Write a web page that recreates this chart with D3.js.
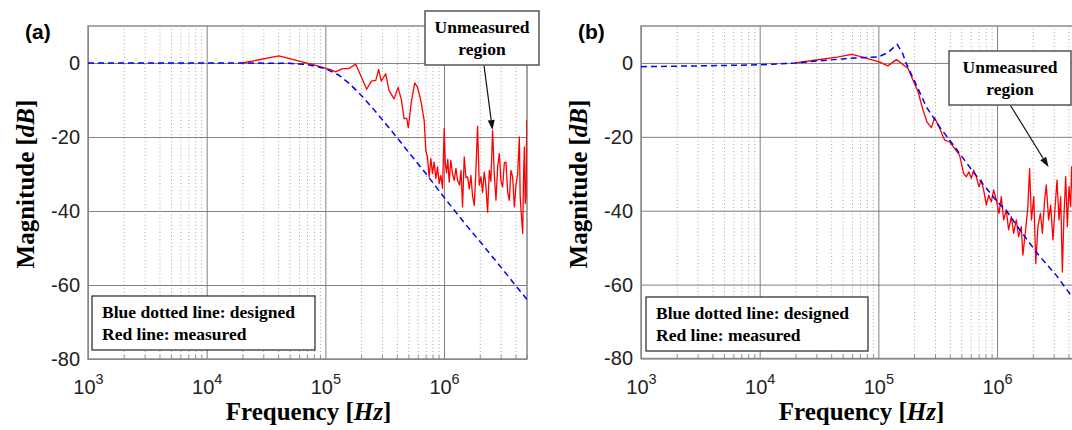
<!DOCTYPE html>
<html><head><meta charset="utf-8">
<script src="https://cdn.jsdelivr.net/npm/d3@7"></script>
<style>body{margin:0;background:#fff}svg{display:block}</style>
</head><body>
<svg id="c" width="1072" height="430"></svg>
<script>
// ---------- data ----------
const freqTicks = [1e3, 1e4, 1e5, 1e6];
const freqTickExp = ["3", "4", "5", "6"];
const magTicks = [-80, -60, -40, -20, 0];
const freqDomain = [1e3, 5e6];
const magDomain = [-80, 10];

const designedA_f  = [1e3, 1e4, 2e4, 5e4, 7e4, 1e5, 1.3e5, 1.6e5, 2e5, 2.5e5, 3e5, 4e5, 5e5, 7e5, 1e6, 1.5e6, 2e6, 3e6, 4e6, 5e6];
const designedA_db = [0, 0, 0, -0.1, -0.4, -1.5, -3.3, -5.6, -8.7, -12.2, -15.2, -20.1, -24, -29.8, -36.3, -43.4, -48.2, -55.1, -60.1, -63.9];

const measuredA_f  = [2e4, 4.06e4, 8e4, 1.107e5, 1.22e5, 1.39e5, 1.58e5, 1.8e5, 2.23e5, 2.44e5, 2.66e5, 2.81e5, 2.96e5, 3.22e5, 3.44e5, 3.79e5, 4.1e5, 4.38e5, 4.6e5, 4.85e5, 5.0e5, 5.3e5, 5.66e5, 5.97e5, 6.37e5, 6.8e5, 7.02e5, 7.25e5, 7.49e5, 7.74e5, 7.99e5, 8.25e5, 8.52e5, 8.81e5, 9.1e5, 9.4e5, 9.71e5, 1.003e6, 1.025e6, 1.049e6, 1.075e6, 1.105e6, 1.141e6, 1.18e6, 1.218e6, 1.26e6, 1.299e6, 1.35e6, 1.39e6, 1.432e6, 1.479e6, 1.53e6, 1.579e6, 1.63e6, 1.684e6, 1.74e6, 1.797e6, 1.85e6, 1.917e6, 1.98e6, 2.046e6, 2.11e6, 2.183e6, 2.25e6, 2.329e6, 2.406e6, 2.48e6, 2.566e6, 2.65e6, 2.738e6, 2.83e6, 2.922e6, 3.02e6, 3.117e6, 3.22e6, 3.326e6, 3.44e6, 3.548e6, 3.66e6, 3.786e6, 3.911e6, 4.04e6, 4.173e6, 4.31e6, 4.38e6, 4.453e6, 4.6e6, 4.68e6, 4.75e6, 4.83e6, 4.91e6, 4.98e6, 5.0e6];
const measuredA_db = [0, 1.9, -0.5, -1.8, -2.4, -1.5, -1.5, -0.3, -7.1, -4.9, -4.7, -1.7, -4.9, -2.9, -7.4, -9.7, -6.6, -10.1, -15, -15, -17.5, -10.5, -5.4, -6.5, -10.1, -15.5, -23.6, -25.4, -30.8, -25.8, -29.9, -26.8, -31.2, -28.1, -32.6, -30.4, -33.9, -17.7, -27, -29.7, -26, -32.2, -26.3, -30, -31.7, -28.5, -31.7, -33, -29, -38.9, -25.4, -31, -30.8, -34, -30.4, -36, -38.5, -30, -17.1, -33, -30.8, -35, -29.5, -33, -40.3, -29, -32, -18.3, -30, -37.1, -28, -24.5, -32, -33.5, -27, -26.8, -35, -37.1, -29, -30.8, -38.9, -33, -29.9, -20, -36, -39.8, -46.1, -30, -22.7, -38, -36.2, -15.5, -29];

const designedB_f  = [1e3, 3e3, 1e4, 2e4, 3e4, 5e4, 7e4, 1e5, 1.2e5, 1.44e5, 1.6e5, 1.72e5, 2.09e5, 2.54e5, 3.28e5, 4.47e5, 6.3e5, 1e6, 1.2e6, 1.58e6, 2.24e6, 3.16e6, 4.09e6, 5e6];
const designedB_db = [-1.0, -0.8, -0.5, 0, 0.5, 1.1, 1.4, 1.6, 2.8, 5.0, 2.6, -0.2, -6, -11.9, -17.3, -23, -29.5, -37.5, -40, -45.5, -52, -57.5, -62.4, -66];

const measuredB_f  = [2e4, 3e4, 4.5e4, 5.97e4, 7e4, 1.03e5, 1.2e5, 1.42e5, 1.78e5, 1.96e5, 2.16e5, 2.38e5, 2.57e5, 2.8e5, 2.98e5, 3.24e5, 3.62e5, 3.99e5, 4.4e5, 4.84e5, 5.23e5, 5.51e5, 5.8e5, 6.07e5, 6.35e5, 6.69e5, 7.04e5, 7.37e5, 7.71e5, 8.13e5, 8.5e5, 8.95e5, 9.36e5, 9.86e5, 1.04e6, 1.087e6, 1.137e6, 1.197e6, 1.252e6, 1.319e6, 1.38e6, 1.453e6, 1.52e6, 1.6e6, 1.65e6, 1.73e6, 1.82e6, 1.88e6, 1.95e6, 2.04e6, 2.12e6, 2.21e6, 2.32e6, 2.41e6, 2.52e6, 2.6e6, 2.72e6, 2.83e6, 2.96e6, 3.06e6, 3.2e6, 3.33e6, 3.44e6, 3.55e6, 3.66e6, 3.79e6, 3.91e6, 4.04e6, 4.17e6, 4.25e6, 4.4e6, 4.6e6, 4.8e6, 5e6];
const measuredB_db = [0, 0.8, 1.6, 2.3, 1.8, 0.2, -0.8, 0.9, -1.5, -4.7, -7.8, -12.8, -16, -17.5, -14.8, -17.3, -20.9, -21.4, -23.2, -25, -29.9, -30.8, -29.5, -31.2, -29, -30.8, -33.5, -31.7, -34.4, -38.5, -35.8, -37.6, -34.4, -37.1, -40.7, -36.2, -42.5, -39.8, -45.2, -41.6, -46.1, -42.5, -47, -44.3, -52, -46.1, -38.9, -28.6, -42.5, -36.2, -54.3, -44.3, -40.7, -46.1, -37.1, -33, -42.5, -38.5, -47.9, -40.7, -31.7, -42.5, -36.2, -56.6, -41.6, -30.8, -44.3, -33.5, -38.9, -28.1, -40, -35, -45, -38];

const legendLines = ["Blue dotted line: designed", "Red line: measured"];
const noteLines = ["Unmeasured", "region"];

// ---------- layout ----------
const panels = [
  {label: "(a)", lx: 25, left: 88, right: 527, top: 26, bottom: 359,
   des: [designedA_f, designedA_db], mea: [measuredA_f, measuredA_db],
   legend: {x: 92, y: 296, w: 223, h: 54},
   note: {x: 425, y: 11, w: 114, h: 54, x1: 484, y1: 65.5, x2: 492.5, y2: 130}},
  {label: "(b)", lx: 578, left: 641, right: 1080, top: 26, bottom: 358.5,
   des: [designedB_f, designedB_db], mea: [measuredB_f, measuredB_db],
   legend: {x: 646, y: 297, w: 222, h: 54},
   note: {x: 949, y: 51, w: 122, h: 54, x1: 1010.5, y1: 105.5, x2: 1048.5, y2: 167}}
];

const svg = d3.select("#c");
const SANS = "'Liberation Sans', Arial, sans-serif";
const SERIF = "'Liberation Serif', 'Times New Roman', serif";

panels.forEach((p, i) => {
  const x = d3.scaleLog().domain(freqDomain).range([p.left, p.right]);
  const y = d3.scaleLinear().domain(magDomain).range([p.bottom, p.top]);
  const g = svg.append("g");
  const h = p.bottom - p.top, w = p.right - p.left;

  const clipId = "clip" + i;
  svg.append("clipPath").attr("id", clipId).append("rect")
    .attr("x", p.left).attr("y", p.top).attr("width", w).attr("height", h);

  // minor grid
  const minor = [];
  for (let e = 3; e <= 6; e++) for (let k = 2; k <= 9; k++) { const v = k * Math.pow(10, e); if (v <= freqDomain[1]) minor.push(v); }
  g.append("g").attr("transform", `translate(0,${p.bottom})`)
    .call(d3.axisBottom(x).tickValues(minor).tickSize(-h).tickFormat(""))
    .call(s => { s.select(".domain").remove(); s.selectAll("line").attr("stroke", "#a8a8a8").attr("stroke-width", 1).attr("stroke-dasharray", "1,2.5"); });

  // minor inward ticks at bottom
  g.append("g").attr("transform", `translate(0,${p.bottom})`)
    .call(d3.axisBottom(x).tickValues(minor).tickSize(-4).tickFormat(""))
    .call(s => { s.select(".domain").remove(); s.selectAll("line").attr("stroke", "#777").attr("stroke-width", 0.8); });

  // major vertical grid
  g.append("g").attr("transform", `translate(0,${p.bottom})`)
    .call(d3.axisBottom(x).tickValues(freqTicks).tickSize(-h).tickFormat(""))
    .call(s => { s.select(".domain").remove(); s.selectAll("line").attr("stroke", "#737373").attr("stroke-width", 0.9); });

  // horizontal grid
  g.append("g").attr("transform", `translate(${p.left},0)`)
    .call(d3.axisLeft(y).tickValues(magTicks).tickSize(-w).tickFormat(""))
    .call(s => { s.select(".domain").remove(); s.selectAll("line").attr("stroke", "#737373").attr("stroke-width", 0.9); });

  // frame
  g.append("rect").attr("x", p.left).attr("y", p.top).attr("width", w).attr("height", h)
    .attr("fill", "none").attr("stroke", "#8a8a8a").attr("stroke-width", 1.5);

  // y tick labels
  g.append("g").attr("transform", `translate(${p.left},0)`)
    .call(d3.axisLeft(y).tickValues(magTicks).tickSize(0).tickPadding(8).tickFormat(d => String(d)))
    .call(s => { s.select(".domain").remove();
      s.selectAll("text").attr("font-family", SANS).attr("font-size", 20).attr("fill", "#222"); });

  // x tick labels with superscripts
  g.append("g").attr("transform", `translate(0,${p.bottom})`)
    .call(d3.axisBottom(x).tickValues(freqTicks).tickSize(0).tickFormat(""))
    .call(s => { s.select(".domain").remove();
      s.selectAll("text").each(function(d, j) {
        const t = d3.select(this).attr("y", 35).attr("dy", null)
          .attr("font-family", SANS).attr("font-size", 20).attr("fill", "#222").attr("text-anchor", "middle");
        t.append("tspan").text("10");
        t.append("tspan").attr("dy", -10).attr("font-size", 14.5).text(freqTickExp[j]);
      });
    });

  // lines
  const line = d3.line().x(d => x(d[0])).y(d => y(d[1]));
  const lg = g.append("g").attr("clip-path", `url(#${clipId})`);
  lg.append("path").datum(d3.zip(p.mea[0], p.mea[1])).attr("d", line)
    .attr("fill", "none").attr("stroke", "#ff0000").attr("stroke-width", 1.3).attr("stroke-linejoin", "round");
  lg.append("path").datum(d3.zip(p.des[0], p.des[1])).attr("d", line)
    .attr("fill", "none").attr("stroke", "#0000ff").attr("stroke-width", 1.5).attr("stroke-dasharray", "6,4");

  // axis titles
  const xt = g.append("text").attr("x", (p.left + p.right) / 2 + 1).attr("y", 420)
    .attr("text-anchor", "middle").attr("font-family", SERIF).attr("font-weight", "bold").attr("font-size", 25).attr("fill", "#000");
  xt.append("tspan").text("Frequency [");
  xt.append("tspan").attr("font-style", "italic").text("Hz");
  xt.append("tspan").text("]");

  const yt = g.append("text").attr("transform", `translate(${p.left - 54},${184}) rotate(-90)`)
    .attr("text-anchor", "middle").attr("font-family", SERIF).attr("font-weight", "bold").attr("font-size", 25).attr("fill", "#000");
  yt.append("tspan").text("Magnitude [");
  yt.append("tspan").attr("font-style", "italic").text("dB");
  yt.append("tspan").text("]");

  // panel label
  g.append("text").attr("x", p.lx).attr("y", 39).attr("font-family", SANS).attr("font-weight", "bold")
    .attr("font-size", 21).attr("fill", "#000").text(p.label);

  // legend box
  const L = p.legend;
  g.append("rect").attr("x", L.x).attr("y", L.y).attr("width", L.w).attr("height", L.h)
    .attr("fill", "#fff").attr("stroke", "#222").attr("stroke-width", 1.2);
  legendLines.forEach((s, k) => {
    g.append("text").attr("x", L.x + 10).attr("y", L.y + 22 + k * 22)
      .attr("font-family", SERIF).attr("font-weight", "bold").attr("font-size", 17.5).attr("fill", "#000").text(s);
  });

  // note box + arrow
  const N = p.note;
  const dx = N.x2 - N.x1, dy = N.y2 - N.y1, len = Math.hypot(dx, dy), ux = dx / len, uy = dy / len;
  const ah = 10, aw = 3.5;
  const bx = N.x2 - ux * ah, by = N.y2 - uy * ah;
  g.append("line").attr("x1", N.x1).attr("y1", N.y1).attr("x2", bx).attr("y2", by)
    .attr("stroke", "#111").attr("stroke-width", 1.2);
  g.append("path").attr("d", `M${N.x2},${N.y2}L${bx - uy * aw},${by + ux * aw}L${bx + uy * aw},${by - ux * aw}Z`).attr("fill", "#111");
  g.append("rect").attr("x", N.x).attr("y", N.y).attr("width", N.w).attr("height", N.h)
    .attr("fill", "#fff").attr("stroke", "#555").attr("stroke-width", 1.5);
  noteLines.forEach((s, k) => {
    g.append("text").attr("x", N.x + N.w / 2).attr("y", N.y + 22 + k * 22).attr("text-anchor", "middle")
      .attr("font-family", SERIF).attr("font-weight", "bold").attr("font-size", 17.5).attr("fill", "#000").text(s);
  });
});
</script>
</body></html>
